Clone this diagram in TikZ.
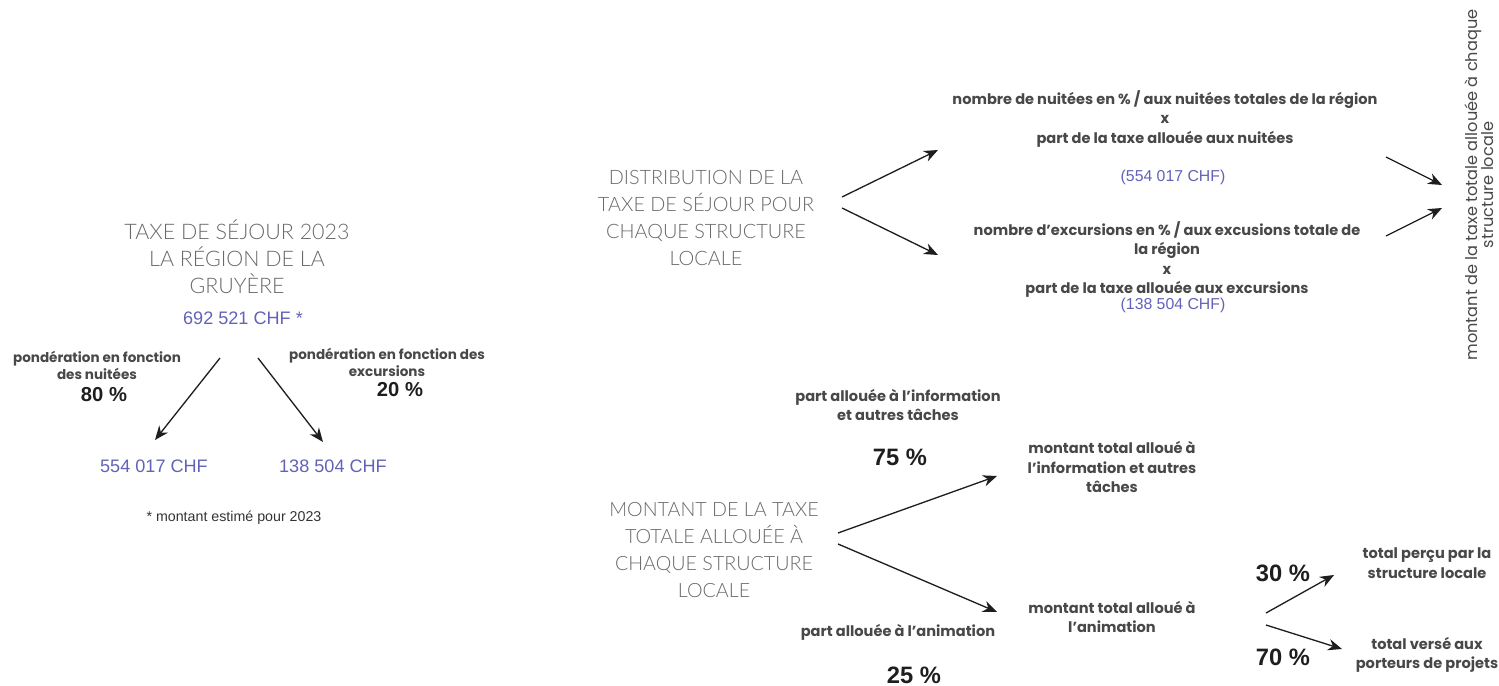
\documentclass[tikz,border=0pt]{standalone}
\usepackage{fontspec}
\usepackage{tikz}
\usetikzlibrary{positioning,arrows.meta,calc}
\newfontfamily\titlefont{Lato Light}
\newfontfamily\lblfont{Poppins}
\newfontfamily\numfont{Liberation Sans}
\definecolor{titlegray}{RGB}{105,105,105}
\definecolor{lblgray}{RGB}{72,72,72}
\definecolor{chfblue}{RGB}{98,98,185}
\definecolor{pctblack}{RGB}{30,30,30}
\tikzstyle{title} = [align=center, inner sep=0pt, text=titlegray, %
   font=\titlefont\fontsize{11.2}{15.4}\selectfont]
\tikzstyle{lbl} = [align=center, inner sep=0pt, text=lblgray, %
   font=\lblfont\bfseries\fontsize{8.3}{11}\selectfont]
\tikzstyle{chf} = [inner sep=0pt, text=chfblue, font=\numfont\fontsize{10.3}{12}\selectfont]
\tikzstyle{pct} = [inner sep=0pt, text=pctblack, font=\numfont\bfseries\fontsize{11.5}{13}\selectfont]
\tikzstyle{bigpct} = [pct, font=\numfont\bfseries\fontsize{13.5}{15}\selectfont]
\tikzstyle{line} = [draw, pctblack, line width=0.75pt, -{Stealth[length=8pt,width=6.5pt]}]

\begin{document}
\begin{tikzpicture}[x=0.02cm, y=-0.02cm]
   \useasboundingbox (0,0) rectangle (1499,686);

   % Left part: total tax %%%%%%%%%%%%%%%%%%%%%%%%%%%%%%%%%%%%%%%%%%%%%%%%%%%%
   \node[title, font=\titlefont\fontsize{12.2}{15.4}\selectfont] (taxe) at (237,257) {TAXE DE SÉJOUR 2023\\LA RÉGION DE LA\\GRUYÈRE};
   \node[chf] (totalchf) at (243,318) {692 521 CHF *};

   \node[lbl, font=\lblfont\bfseries\fontsize{7.7}{9.7}\selectfont] (pondnuit) at (97,365) {pondération en fonction\\des nuitées};
   \node[pct] (pct80) at (104,395) {80 \%};
   \node[lbl, font=\lblfont\bfseries\fontsize{7.7}{9.7}\selectfont] (pondexc) at (387,362) {pondération en fonction des\\excursions};
   \node[pct] (pct20) at (400,390) {20 \%};

   \node[chf] (nuitchf) at (154,466) {554 017 CHF};
   \node[chf] (excchf) at (333,466) {138 504 CHF};
   \node[chf, text=black!80, font=\numfont\fontsize{8.1}{9}\selectfont] (estim) at (234,518) {* montant estimé pour 2023};

   % Top right: distribution %%%%%%%%%%%%%%%%%%%%%%%%%%%%%%%%%%%%%%%%%%%%%%%%%
   \node[title, font=\titlefont\fontsize{11.3}{15.4}\selectfont] (distrib) at (706,218) {DISTRIBUTION DE LA\\TAXE DE SÉJOUR POUR\\CHAQUE STRUCTURE\\LOCALE};

   \node[lbl] (nuitform) at (1165,119) {nombre de nuitées en \% / aux nuitées totales de la région\\x\\part de la taxe allouée aux nuitées};
   \node[chf, font=\numfont\fontsize{9}{11}\selectfont] (nuitval) at (1173,177) {(554 017 CHF)};

   \node[lbl] (excform) at (1167,259.5) {nombre d’excursions en \% / aux excusions totale de\\la région\\x\\part de la taxe allouée aux excursions};
   \node[chf, font=\numfont\fontsize{9}{11}\selectfont] (excval) at (1173,305) {(138 504 CHF)};

   \node[lbl, rotate=90, font=\lblfont\fontsize{9.2}{9.4}\selectfont] (montloc) at (1479,185) {montant de la taxe totale allouée à chaque\\structure locale};

   % Bottom right: use of the amount %%%%%%%%%%%%%%%%%%%%%%%%%%%%%%%%%%%%%%%%%
   \node[title] (montant) at (714,550) {MONTANT DE LA TAXE\\TOTALE ALLOUÉE À\\CHAQUE STRUCTURE\\LOCALE};

   \node[lbl] (partinfo) at (898,405) {part allouée à l’information\\et autres tâches};
   \node[bigpct] (pct75) at (900,457) {75 \%};
   \node[lbl] (partanim) at (898,632) {part allouée à l’animation};
   \node[bigpct] (pct25) at (914,675) {25 \%};

   \node[lbl] (infototal) at (1112,467) {montant total alloué à\\l’information et autres\\tâches};
   \node[lbl] (animtotal) at (1112,617) {montant total alloué à\\l’animation};

   \node[bigpct] (pct30) at (1283,573) {30 \%};
   \node[bigpct] (pct70) at (1283,657) {70 \%};
   \node[lbl] (percu) at (1427,563) {total perçu par la\\structure locale};
   \node[lbl] (verse) at (1427,655) {total versé aux\\porteurs de projets};

   % Draw edges
   \path [line] ($(totalchf)+(-23,40)$) -- ($(nuitchf)+(1,-26)$);
   \path [line] ($(totalchf)+(15,40)$) -- ($(excchf)+(-10,-24)$);

   \path [line] ($(distrib)+(136,-21)$) -- ($(nuitform)+(-227,31)$);
   \path [line] ($(distrib)+(136,-10)$) -- ($(excform)+(-229,-4.5)$);
   \path [line] ($(nuitform)+(221,38)$) -- ($(montloc)+(-37,0)$);
   \path [line] ($(excform)+(219,-23.5)$) -- ($(montloc)+(-37,23)$);

   \path [line] ($(montant)+(124,-17)$) -- ($(infototal)+(-115,9)$);
   \path [line] ($(montant)+(124,-6)$) -- ($(animtotal)+(-115,-5)$);
   \path [line] ($(animtotal)+(154,-4)$) -- ($(percu)+(-93,12)$);
   \path [line] ($(animtotal)+(154,8)$) -- ($(verse)+(-85,-6)$);

\end{tikzpicture}
\end{document}
